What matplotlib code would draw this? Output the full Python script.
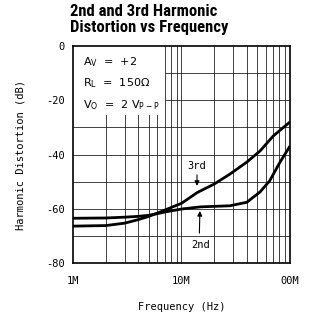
import matplotlib
matplotlib.use("Agg")
import matplotlib.pyplot as plt
import numpy as np

# data (frequency in Hz, distortion in dB)
freq_3rd = [1e6, 2e6, 3e6, 4e6, 5e6, 6e6, 7e6, 10e6, 14e6, 20e6, 28e6, 40e6, 53e6, 70e6, 100e6]
hd3 = [-66.4, -66.2, -65.3, -64.0, -62.8, -61.6, -60.5, -58.0, -54.0, -50.9, -47.2, -42.8, -38.7, -33.2, -28.0]
freq_2nd = [1e6, 2e6, 3e6, 4e6, 5e6, 6e6, 7e6, 10e6, 15e6, 28e6, 40e6, 53e6, 65e6, 81e6, 100e6]
hd2 = [-63.5, -63.4, -63.1, -62.8, -62.4, -61.8, -61.2, -60.1, -59.3, -58.9, -57.6, -53.8, -49.7, -42.8, -36.9]

xticks = [1e6, 10e6, 100e6]
xticklabels = ["1M", "10M", "00M"]
yticks = [0, -20, -40, -60, -80]
yticklabels = ["0", "-20", "-40", "-60", "-80"]

mono = "DejaVu Sans Mono"

fig = plt.figure(figsize=(3.11, 3.19), dpi=100)
ax = fig.add_axes([0.2347, 0.1755, 0.6977, 0.6803])
ax.set_xscale("log")
ax.set_xlim(1e6, 100e6)
ax.set_ylim(-80, 0)

# grid
minor_x = [m * d for d in (1e6, 1e7) for m in range(2, 10)]
for x in minor_x + [10e6]:
    ax.axvline(x, color="#222222", lw=0.6, zorder=1)
for y in range(-70, 0, 10):
    ax.axhline(y, color="#222222", lw=0.6, zorder=1)

# white area behind the conditions text
ax.fill_between([1e6, 7.1e6], -25.5, 0, color="white", zorder=2, lw=0)

ax.plot(freq_3rd, hd3, color="black", lw=2.0, zorder=4, solid_capstyle="butt")
ax.plot(freq_2nd, hd2, color="black", lw=2.0, zorder=4, solid_capstyle="butt")

ax.set_xticks(xticks)
ax.set_xticklabels(xticklabels, fontsize=7.5, family=mono)
ax.xaxis.set_minor_locator(matplotlib.ticker.NullLocator())
ax.set_yticks(yticks)
ax.set_yticklabels(yticklabels, fontsize=7.5, family=mono)
ax.tick_params(length=0, pad=6)
ax.tick_params(axis="x", pad=9)
for s in ax.spines.values():
    s.set_linewidth(1.2)
    s.set_zorder(5)

ax.set_xlabel("Frequency (Hz)", fontsize=7.5, family=mono, labelpad=12)
ax.set_ylabel("Harmonic Distortion (dB)", fontsize=7.5, family=mono, labelpad=15)

# conditions
tk = dict(fontsize=8, family="DejaVu Sans", transform=ax.transAxes, zorder=6, va="center")
ax.text(0.045, 0.925, r"A$_\mathregular{V}$  =  +2", **tk)
ax.text(0.045, 0.828, r"R$_\mathregular{L}$  =  150$\Omega$", **tk)
ax.text(0.045, 0.728, r"V$_\mathregular{O}$  =  2 V$_\mathregular{P-P}$", **tk)

# annotations
ax.annotate("", xy=(13.9e6, -52.6), xytext=(13.9e6, -46.5),
            arrowprops=dict(arrowstyle="-|>", color="black", lw=0.8, mutation_scale=7), zorder=6)
ax.text(13.9e6, -44.2, "3rd", fontsize=7.5, family=mono, ha="center", va="center", zorder=6)
ax.annotate("", xy=(14.8e6, -59.8), xytext=(14.6e6, -70),
            arrowprops=dict(arrowstyle="-|>", color="black", lw=0.8, mutation_scale=7), zorder=6)
ax.text(14.9e6, -73.5, "2nd", fontsize=7.5, family=mono, ha="center", va="center", zorder=6)

fig.text(70 / 311, 1 - 4 / 319, "2nd and 3rd Harmonic\nDistortion vs Frequency",
         fontsize=12, fontweight="bold", family=["Roboto Condensed", "DejaVu Sans"],
         ha="left", va="top", linespacing=1.05)

fig.savefig("out.png", dpi=100)
